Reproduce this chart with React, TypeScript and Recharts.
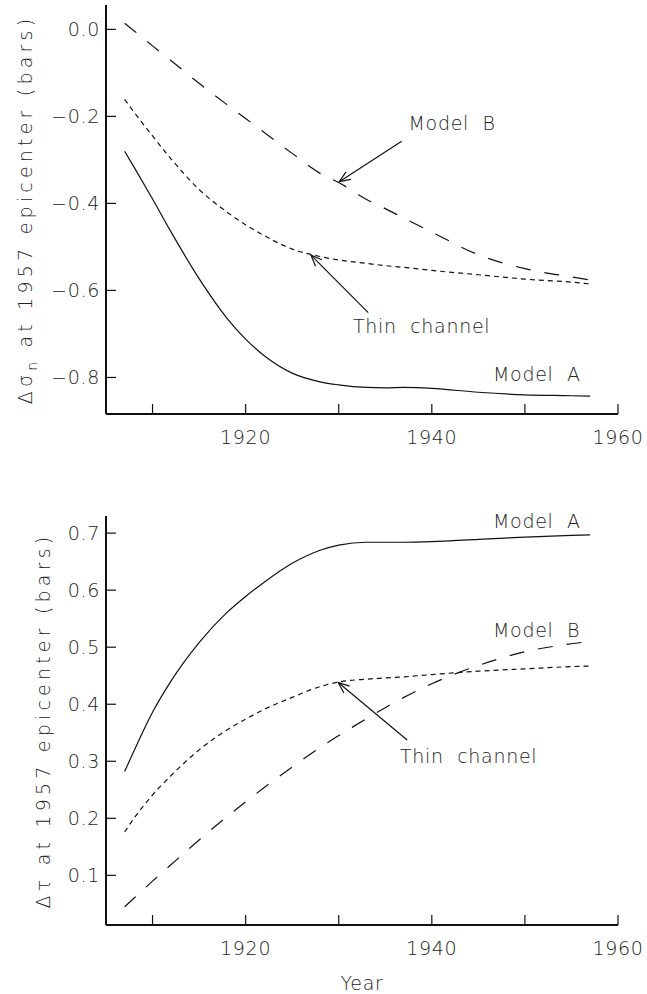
import { LineChart, Line, XAxis, YAxis, ReferenceLine, ReferenceDot } from "recharts";

// years sampled along the curves (last one is the 1957 event)
const years = [1907, 1908, 1910, 1912, 1915, 1918, 1920, 1922, 1925, 1928, 1930, 1933, 1935, 1937, 1940, 1945, 1950, 1955, 1957];

// normal stress change, top panel
const normalModelA = [-0.28, -0.316, -0.39, -0.466, -0.573, -0.664, -0.712, -0.75, -0.79, -0.81, -0.817, -0.823, -0.824, -0.823, -0.825, -0.834, -0.84, -0.842, -0.843];
const normalThin = [-0.161, -0.19, -0.245, -0.298, -0.368, -0.42, -0.449, -0.474, -0.505, -0.522, -0.53, -0.538, -0.543, -0.547, -0.554, -0.564, -0.574, -0.581, -0.585];
const normalModelB = [0.014, -0.003, -0.038, -0.072, -0.124, -0.173, -0.205, -0.237, -0.285, -0.331, -0.352, -0.391, -0.412, -0.434, -0.466, -0.518, -0.55, -0.569, -0.576];

// shear stress change, bottom panel
const shearModelA = [0.282, 0.318, 0.386, 0.441, 0.508, 0.561, 0.589, 0.614, 0.647, 0.67, 0.679, 0.684, 0.684, 0.684, 0.685, 0.689, 0.693, 0.696, 0.697];
const shearThin = [0.176, 0.2, 0.241, 0.275, 0.32, 0.355, 0.374, 0.391, 0.412, 0.431, 0.439, 0.444, 0.446, 0.448, 0.452, 0.458, 0.462, 0.466, 0.467];
const shearModelB = [0.045, 0.06, 0.09, 0.119, 0.162, 0.203, 0.229, 0.254, 0.29, 0.324, 0.345, 0.375, 0.394, 0.412, 0.436, 0.468, 0.492, 0.506, 0.51];

const xTicks = [1910, 1920, 1930, 1940, 1950, 1960];
const xLabelled = [1920, 1940, 1960];
const normalTicks = [0, -0.2, -0.4, -0.6, -0.8];
const shearTicks = [0.1, 0.2, 0.3, 0.4, 0.5, 0.6, 0.7];

const normalData = years.map((year, i) => ({
  year,
  modelA: normalModelA[i],
  thin: normalThin[i],
  modelB: normalModelB[i],
}));

const shearData = years.map((year, i) => ({
  year,
  modelA: shearModelA[i],
  thin: shearThin[i],
  modelB: shearModelB[i],
}));

const FONT = "'DejaVu Sans', sans-serif";
const INK = "#111";
const textStyle = {
  fontFamily: FONT,
  fontSize: 19,
  fontWeight: 200,
  letterSpacing: 0.7,
  fill: "#222",
  whiteSpace: "pre" as const,
};

function XTick(props: any) {
  const { x, y, payload } = props;
  return (
    <g>
      <line x1={x} y1={y} x2={x} y2={y - 10} stroke={INK} strokeWidth={1.2} />
      {xLabelled.includes(payload.value) && (
        <text x={x} y={y + 30} textAnchor="middle" style={textStyle}>
          {payload.value}
        </text>
      )}
    </g>
  );
}

function YTick(props: any) {
  const { x, y, payload } = props;
  const v = payload.value as number;
  const label = (v < 0 ? "\u2212" : "") + Math.abs(v).toFixed(1);
  return (
    <g>
      <line x1={x} y1={y} x2={x + 10} y2={y} stroke={INK} strokeWidth={1.2} />
      <text x={x - 6} y={y + 7} textAnchor="end" style={textStyle}>
        {label}
      </text>
    </g>
  );
}

const noteLabel = (text: string) => (p: any) => (
  <text x={p.viewBox.x + 1} y={p.viewBox.y + 1} style={textStyle}>
    {text}
  </text>
);

const yTitle = (x: number, symbol: string, sub: string | null) => (p: any) => {
  const vb = p.viewBox || { y: 0, height: 0 };
  const cy = vb.y + vb.height / 2;
  return (
    <text
      transform={`translate(${x},${cy}) rotate(-90)`}
      textAnchor="middle"
      style={{ ...textStyle, letterSpacing: 4.2 }}
    >
      {symbol}
      {sub && (
        <tspan dy={5} fontSize={14}>
          {sub}
        </tspan>
      )}
      <tspan dy={sub ? -5 : 0}>{" at 1957 epicenter (bars)"}</tspan>
    </text>
  );
};

function ArrowDef({ id }: { id: string }) {
  return (
    <defs>
      <marker id={id} markerUnits="userSpaceOnUse" markerWidth={14} markerHeight={12} refX={12} refY={6} orient="auto">
        <path d="M1,1.5 L12,6 L1,10.5" fill="none" stroke={INK} strokeWidth={1.2} />
      </marker>
    </defs>
  );
}

export default function App() {
  return (
    <div style={{ position: "absolute", left: 0, top: 0, width: 647, height: 994, background: "#fff" }}>
      <LineChart width={647} height={470} data={normalData} margin={{ top: 5, right: 29, bottom: 0, left: 0 }}>
        <ArrowDef id="arrowTop" />
        <XAxis
          dataKey="year"
          type="number"
          domain={[1905, 1960]}
          ticks={xTicks}
          allowDataOverflow
          height={56}
          tickSize={0}
          tickMargin={0}
          tickLine={false}
          axisLine={{ stroke: INK, strokeWidth: 2 }}
          tick={<XTick />}
        />
        <YAxis
          type="number"
          domain={[-0.884, 0.056]}
          ticks={normalTicks}
          allowDataOverflow
          width={106}
          tickSize={0}
          tickMargin={0}
          tickLine={false}
          axisLine={{ stroke: INK, strokeWidth: 2 }}
          tick={<YTick />}
          label={yTitle(32, "\u0394\u03c3", "n")}
        />
        <Line type="monotone" dataKey="modelB" stroke={INK} strokeWidth={1.2} strokeDasharray="15 14" dot={false} isAnimationActive={false} />
        <Line type="monotone" dataKey="thin" stroke={INK} strokeWidth={1.2} strokeDasharray="5 4" dot={false} isAnimationActive={false} />
        <Line type="monotone" dataKey="modelA" stroke={INK} strokeWidth={1.2} dot={false} isAnimationActive={false} />
        <ReferenceLine segment={[{ x: 1936.76, y: -0.257 }, { x: 1930.06, y: -0.35 }]} stroke={INK} strokeWidth={1.2} markerEnd="url(#arrowTop)" />
        <ReferenceLine segment={[{ x: 1933.17, y: -0.651 }, { x: 1927.02, y: -0.519 }]} stroke={INK} strokeWidth={1.2} markerEnd="url(#arrowTop)" />
        <ReferenceDot x={1937.5} y={-0.2315} r={1} fill="none" stroke="none" label={noteLabel("Model  B")} />
        <ReferenceDot x={1931.53} y={-0.698} r={1} fill="none" stroke="none" label={noteLabel("Thin  channel")} />
        <ReferenceDot x={1946.57} y={-0.8085} r={1} fill="none" stroke="none" label={noteLabel("Model  A")} />
      </LineChart>
      <LineChart width={647} height={524} data={shearData} margin={{ top: 46, right: 29, bottom: 0, left: 0 }}>
        <ArrowDef id="arrowBottom" />
        <XAxis
          dataKey="year"
          type="number"
          domain={[1905, 1960]}
          ticks={xTicks}
          allowDataOverflow
          height={69}
          tickSize={0}
          tickMargin={0}
          tickLine={false}
          axisLine={{ stroke: INK, strokeWidth: 2 }}
          tick={<XTick />}
          label={(p: any) => {
            const vb = p.viewBox || { x: 106, width: 512, y: 925 };
            return (
              <text x={vb.x + vb.width / 2} y={vb.y + 65} textAnchor="middle" style={textStyle}>
                Year
              </text>
            );
          }}
        />
        <YAxis
          type="number"
          domain={[0.013, 0.73]}
          ticks={shearTicks}
          allowDataOverflow
          width={106}
          tickSize={0}
          tickMargin={0}
          tickLine={false}
          axisLine={{ stroke: INK, strokeWidth: 2 }}
          tick={<YTick />}
          label={yTitle(50, "\u0394\u03c4", null)}
        />
        <Line type="monotone" dataKey="modelB" stroke={INK} strokeWidth={1.2} strokeDasharray="15 14" dot={false} isAnimationActive={false} />
        <Line type="monotone" dataKey="thin" stroke={INK} strokeWidth={1.2} strokeDasharray="5 4" dot={false} isAnimationActive={false} />
        <Line type="monotone" dataKey="modelA" stroke={INK} strokeWidth={1.2} dot={false} isAnimationActive={false} />
        <ReferenceLine segment={[{ x: 1937.35, y: 0.3374 }, { x: 1929.95, y: 0.438 }]} stroke={INK} strokeWidth={1.2} markerEnd="url(#arrowBottom)" />
        <ReferenceDot x={1946.57} y={0.7093} r={1} fill="none" stroke="none" label={noteLabel("Model  A")} />
        <ReferenceDot x={1946.57} y={0.518} r={1} fill="none" stroke="none" label={noteLabel("Model  B")} />
        <ReferenceDot x={1936.58} y={0.297} r={1} fill="none" stroke="none" label={noteLabel("Thin  channel")} />
      </LineChart>
    </div>
  );
}
